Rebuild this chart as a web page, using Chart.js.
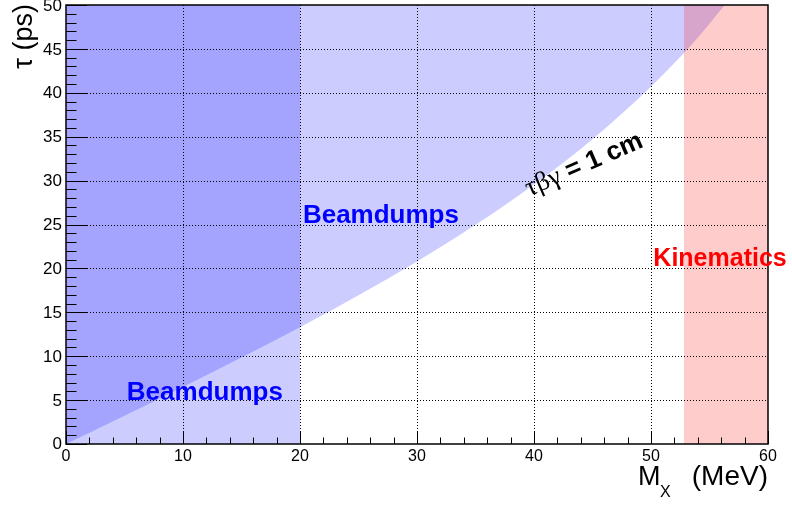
<!DOCTYPE html>
<html>
<head>
<meta charset="utf-8">
<script src="https://cdn.jsdelivr.net/npm/chart.js@4"></script>
<style>
  body { margin: 0; background: #fff; }
  canvas { display: block; }
</style>
</head>
<body>
<canvas id="chart" width="792" height="505"></canvas>
<script>
// axis ranges and tick labels
const xTicks = [0, 10, 20, 30, 40, 50, 60];
const yTicks = [0, 5, 10, 15, 20, 25, 30, 35, 40, 45, 50];

// tau*beta*gamma = 1 cm line (MeV, ps)
const curveMass = [0, 5, 10, 15, 20, 25, 30, 35, 40, 45, 50, 52, 54, 56.3];
const curveTau = [0, 3.23, 6.5, 9.84, 13.3, 16.93, 20.79, 24.96, 29.56, 34.72, 40.69, 43.38, 46.28, 50];

// excluded bands (MeV)
const beamdumpMass = [0, 20];
const kinematicsMass = [52.8, 60];

// text labels: [text, mass, tau]
const labelBeamLow = ['Beamdumps', 5.2, 5.0];
const labelBeamHigh = ['Beamdumps', 20.25, 25.2];
const labelKin = ['Kinematics', 50.2, 20.3];
const labelCurve = [39.6, 28.2];

const pts = (xs, ys) => xs.map((x, i) => ({x: x, y: ys[i]}));
const band = (xs) => xs.map(x => ({x: x, y: yTicks[yTicks.length - 1]}));

const rootStyle = {
    id: 'rootStyle',
    afterDatasetsDraw(chart) {
        const ctx = chart.ctx;
        const xs = chart.scales.x, ys = chart.scales.y;
        const a = chart.chartArea;
        ctx.save();
        // dotted grid
        ctx.strokeStyle = '#000';
        ctx.lineWidth = 1;
        ctx.setLineDash([1, 2]);
        xTicks.slice(1, -1).forEach(v => {
            const px = Math.round(xs.getPixelForValue(v)) + 0.5;
            ctx.beginPath(); ctx.moveTo(px, a.top); ctx.lineTo(px, a.bottom); ctx.stroke();
        });
        yTicks.slice(1, -1).forEach(v => {
            const py = Math.round(ys.getPixelForValue(v)) + 0.5;
            ctx.beginPath(); ctx.moveTo(a.left, py); ctx.lineTo(a.right, py); ctx.stroke();
        });
        ctx.setLineDash([]);

        // ticks inside the frame
        for (let v = xs.min; v <= xs.max; v += 2) {
            const px = Math.round(xs.getPixelForValue(v)) + 0.5;
            const len = v % 10 === 0 ? 13 : 6.5;
            ctx.beginPath(); ctx.moveTo(px, a.bottom); ctx.lineTo(px, a.bottom - len); ctx.stroke();
        }
        for (let v = ys.min; v <= ys.max; v += 1) {
            const py = Math.round(ys.getPixelForValue(v)) + 0.5;
            const len = v % 5 === 0 ? 21 : 10.5;
            ctx.beginPath(); ctx.moveTo(a.left, py); ctx.lineTo(a.left + len, py); ctx.stroke();
        }

        // frame
        ctx.lineWidth = 1.5;
        ctx.strokeRect(a.left, a.top, a.right - a.left, a.bottom - a.top);
        ctx.restore();
    },
    afterDraw(chart) {
        const ctx = chart.ctx;
        const xs = chart.scales.x, ys = chart.scales.y;
        const a = chart.chartArea;
        ctx.save();
        ctx.fillStyle = '#000';

        // tick labels
        ctx.font = '16px "Liberation Sans", Arial, sans-serif';
        ctx.textAlign = 'center';
        ctx.textBaseline = 'top';
        xTicks.forEach(v => ctx.fillText(String(v), xs.getPixelForValue(v), a.bottom + 5));
        ctx.font = '17px "Liberation Sans", Arial, sans-serif';
        ctx.textAlign = 'right';
        ctx.textBaseline = 'middle';
        yTicks.forEach(v => ctx.fillText(String(v), a.left - 4, ys.getPixelForValue(v) + (v === 0 ? 0 : 1)));

        // x title: M_X (MeV)
        ctx.textBaseline = 'alphabetic';
        ctx.font = '27px "Liberation Sans", Arial, sans-serif';
        ctx.textAlign = 'left';
        ctx.fillText('M', a.right - 130, 485);
        ctx.font = '16px "Liberation Sans", Arial, sans-serif';
        ctx.fillText('X', a.right - 108, 497);
        ctx.font = '28px "Liberation Sans", Arial, sans-serif';
        ctx.textAlign = 'right';
        ctx.fillText('(MeV)', a.right, 485);

        // y title: tau (ps)
        ctx.save();
        ctx.translate(32, 4);
        ctx.rotate(-Math.PI / 2);
        ctx.font = '27px "Liberation Sans", Arial, sans-serif';
        ctx.textAlign = 'right';
        ctx.fillText('\u03c4 (ps)', 0, 0);
        ctx.restore();

        // region labels
        ctx.font = 'bold 26px "Liberation Sans", Arial, sans-serif';
        ctx.textAlign = 'left';
        ctx.fillStyle = '#0000ff';
        [labelBeamLow, labelBeamHigh].forEach(l => ctx.fillText(l[0], xs.getPixelForValue(l[1]), ys.getPixelForValue(l[2])));
        ctx.font = 'bold 25px "Liberation Sans", Arial, sans-serif';
        ctx.fillStyle = '#ff0000';
        ctx.fillText(labelKin[0], xs.getPixelForValue(labelKin[1]), ys.getPixelForValue(labelKin[2]));

        // curve label
        ctx.save();
        ctx.translate(xs.getPixelForValue(labelCurve[0]), ys.getPixelForValue(labelCurve[1]));
        ctx.rotate(-23.4 * Math.PI / 180);
        ctx.fillStyle = '#000';
        ctx.font = '27px "Liberation Serif", "Times New Roman", serif';
        const greek = '\u03c4\u03b2\u03b3';
        ctx.fillText(greek, 0, 0);
        const wg = ctx.measureText(greek).width;
        ctx.font = 'bold 26px "Liberation Sans", Arial, sans-serif';
        ctx.fillText(' = 1 cm', wg, 0);
        ctx.restore();

        ctx.restore();
    }
};

new Chart(document.getElementById('chart'), {
    type: 'line',
    data: {
        datasets: [
            {
                label: 'Kinematics',
                data: band(kinematicsMass),
                fill: 'start',
                backgroundColor: 'rgba(255,0,0,0.2)',
                borderWidth: 0,
                pointRadius: 0
            },
            {
                label: 'Beamdumps (M < 20 MeV)',
                data: band(beamdumpMass),
                fill: 'start',
                backgroundColor: 'rgba(0,0,255,0.2)',
                borderWidth: 0,
                pointRadius: 0
            },
            {
                label: 'tau beta gamma = 1 cm',
                data: pts(curveMass, curveTau),
                fill: 'end',
                backgroundColor: 'rgba(0,0,255,0.2)',
                borderWidth: 0,
                pointRadius: 0,
                cubicInterpolationMode: 'monotone'
            }
        ]
    },
    options: {
        responsive: false,
        animation: false,
        layout: {padding: {left: 66, right: 24, top: 5, bottom: 61}},
        plugins: {legend: {display: false}, tooltip: {enabled: false}},
        scales: {
            x: {
                type: 'linear', min: xTicks[0], max: xTicks[xTicks.length - 1],
                ticks: {display: false}, grid: {display: false, drawTicks: false}, border: {display: false}
            },
            y: {
                type: 'linear', min: yTicks[0], max: yTicks[yTicks.length - 1],
                ticks: {display: false}, grid: {display: false, drawTicks: false}, border: {display: false}
            }
        }
    },
    plugins: [rootStyle]
});
</script>
</body>
</html>
